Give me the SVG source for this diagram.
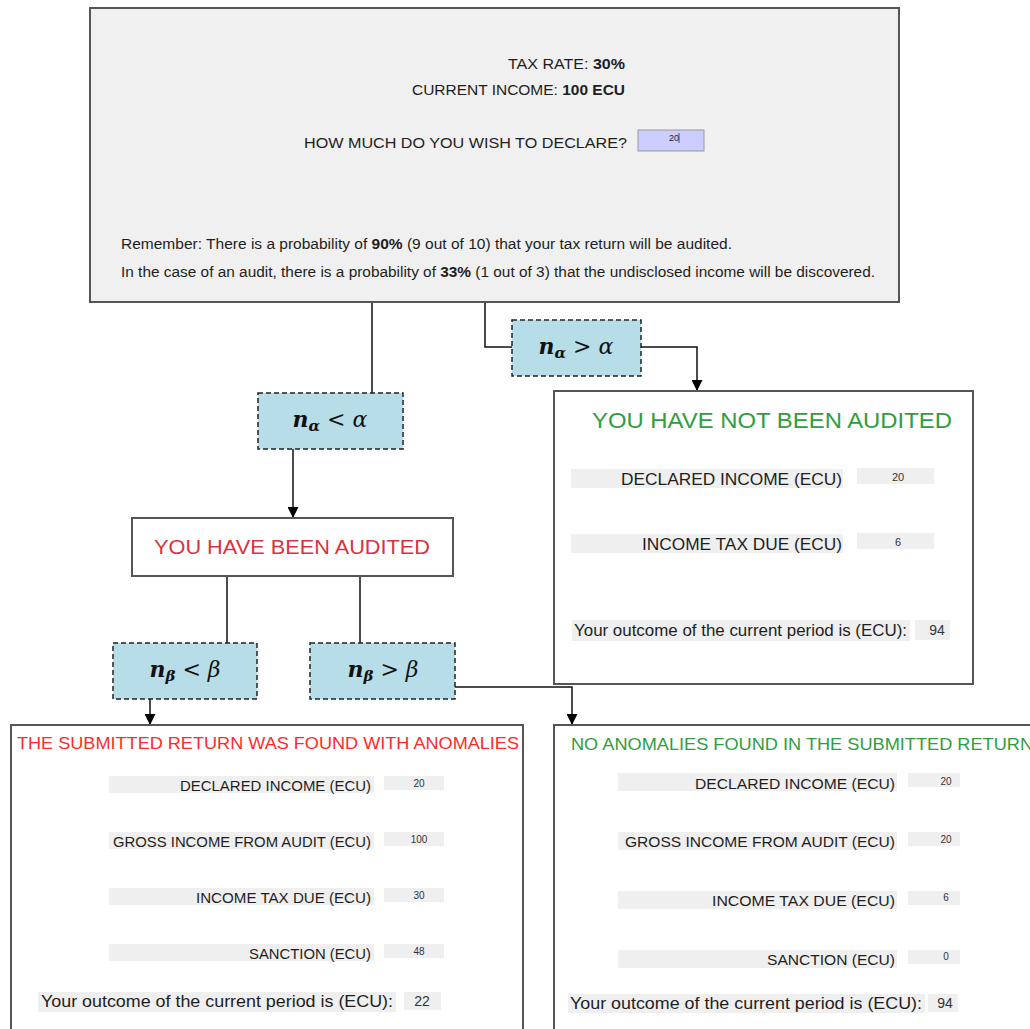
<svg xmlns="http://www.w3.org/2000/svg" width="1030" height="1029" viewBox="0 0 1030 1029">
<defs>
<marker id="arr" viewBox="0 0 10 10" refX="10" refY="5" markerWidth="11" markerHeight="11" markerUnits="userSpaceOnUse" orient="auto">
<path d="M0,0 L10,5 L0,10 z" fill="#000"/>
</marker>
<style>
.sans{font-family:"Liberation Sans",Arial,sans-serif;fill:#1e1e1e}
.box{fill:#fff;stroke:#555;stroke-width:2}
.cond{fill:#b7dde8;stroke:#222;stroke-width:1.5;stroke-dasharray:5 3}
.bar{fill:#efefef}
.conn{fill:none;stroke:#111;stroke-width:1.5}
.math{font-family:"DejaVu Serif","Liberation Serif",serif;font-size:22px;fill:#111}
.lbl{font-family:"Liberation Sans",Arial,sans-serif;fill:#1e1e1e;text-anchor:end}
.val{font-family:"Liberation Sans",Arial,sans-serif;fill:#333;text-anchor:middle}
</style>
</defs>
<rect width="1030" height="1029" fill="#fff"/>

<g id="connectors">
<path class="conn" d="M372,302 V393"/>
<path class="conn" d="M485,302 V347 H512"/>
<path class="conn" d="M641,347 H697 V391" marker-end="url(#arr)"/>
<path class="conn" d="M293,449 V518" marker-end="url(#arr)"/>
<path class="conn" d="M227,576 V643"/>
<path class="conn" d="M360,576 V643"/>
<path class="conn" d="M150,699 V725" marker-end="url(#arr)"/>
<path class="conn" d="M455,687 H572 V725" marker-end="url(#arr)"/>
</g>

<g id="decision">
<rect x="90" y="8" width="809" height="294" fill="#f0f0f0" stroke="#555" stroke-width="2"/>
<text class="sans" x="625" y="69" font-size="15.5" text-anchor="end" textLength="117" lengthAdjust="spacingAndGlyphs">TAX RATE: <tspan font-weight="bold">30%</tspan></text>
<text class="sans" x="625" y="95" font-size="15.5" text-anchor="end" textLength="213" lengthAdjust="spacingAndGlyphs">CURRENT INCOME: <tspan font-weight="bold">100 ECU</tspan></text>
<text class="sans" x="627" y="148" font-size="15.5" text-anchor="end" textLength="323" lengthAdjust="spacingAndGlyphs">HOW MUCH DO YOU WISH TO DECLARE?</text>
<rect x="638" y="130" width="66" height="21" fill="#ccccff" stroke="#999" stroke-width="1"/>
<text class="sans" x="674" y="141" font-size="9" text-anchor="middle">20</text>
<line x1="679" y1="133" x2="679" y2="143" stroke="#333" stroke-width="0.8"/>
<text class="sans" x="121" y="249" font-size="14" textLength="611" lengthAdjust="spacingAndGlyphs">Remember: There is a probability of <tspan font-weight="bold">90%</tspan> (9 out of 10) that your tax return will be audited.</text>
<text class="sans" x="121" y="277" font-size="14" textLength="754" lengthAdjust="spacingAndGlyphs">In the case of an audit, there is a probability of <tspan font-weight="bold">33%</tspan> (1 out of 3) that the undisclosed income will be discovered.</text>
</g>

<g id="cond-a-lt">
<rect class="cond" x="258" y="393" width="145" height="56"/>
<text class="math" x="330" y="427" text-anchor="middle"><tspan font-weight="bold" font-style="italic">n</tspan><tspan font-weight="bold" font-style="italic" font-size="15" dy="4">α</tspan><tspan dy="-4"> &lt; </tspan><tspan font-style="italic">α</tspan></text>
</g>

<g id="cond-a-gt">
<rect class="cond" x="512" y="320" width="129" height="56"/>
<text class="math" x="576" y="354" text-anchor="middle"><tspan font-weight="bold" font-style="italic">n</tspan><tspan font-weight="bold" font-style="italic" font-size="15" dy="4">α</tspan><tspan dy="-4"> &gt; </tspan><tspan font-style="italic">α</tspan></text>
</g>

<g id="not-audited">
<rect class="box" x="554" y="391" width="419" height="293"/>
<text class="sans" x="592" y="428" font-size="22" style="fill:#2e9e3e" textLength="360" lengthAdjust="spacingAndGlyphs">YOU HAVE NOT BEEN AUDITED</text>
<rect class="bar" x="571" y="469" width="272" height="19"/>
<rect class="bar" x="857" y="468" width="77" height="16"/>
<text class="lbl" x="842" y="485" font-size="17" textLength="221" lengthAdjust="spacingAndGlyphs">DECLARED INCOME (ECU)</text>
<text class="val" x="898" y="481" font-size="11">20</text>
<rect class="bar" x="571" y="534" width="272" height="19"/>
<rect class="bar" x="857" y="533" width="77" height="16"/>
<text class="lbl" x="842" y="550" font-size="17" textLength="200" lengthAdjust="spacingAndGlyphs">INCOME TAX DUE (ECU)</text>
<text class="val" x="898" y="546" font-size="11">6</text>
<rect class="bar" x="572" y="620" width="338" height="21"/>
<rect class="bar" x="915" y="620" width="35" height="20"/>
<text class="sans" x="574" y="636" font-size="16" textLength="333" lengthAdjust="spacingAndGlyphs">Your outcome of the current period is (ECU):</text>
<text class="val" x="937" y="635" font-size="14">94</text>
</g>

<g id="audited">
<rect class="box" x="132" y="518" width="321" height="58"/>
<text class="sans" x="292" y="554" font-size="20" text-anchor="middle" style="fill:#d9343e" textLength="276" lengthAdjust="spacingAndGlyphs">YOU HAVE BEEN AUDITED</text>
</g>

<g id="cond-b-lt">
<rect class="cond" x="113" y="643" width="144" height="56"/>
<text class="math" x="185" y="677" text-anchor="middle"><tspan font-weight="bold" font-style="italic">n</tspan><tspan font-weight="bold" font-style="italic" font-size="15" dy="4">β</tspan><tspan dy="-4"> &lt; </tspan><tspan font-style="italic">β</tspan></text>
</g>

<g id="cond-b-gt">
<rect class="cond" x="310" y="643" width="145" height="56"/>
<text class="math" x="383" y="677" text-anchor="middle"><tspan font-weight="bold" font-style="italic">n</tspan><tspan font-weight="bold" font-style="italic" font-size="15" dy="4">β</tspan><tspan dy="-4"> &gt; </tspan><tspan font-style="italic">β</tspan></text>
</g>

<g id="anomalies">
<rect class="box" x="11" y="725" width="512" height="310"/>
<text class="sans" x="17" y="749" font-size="17" style="fill:#ff2a2a" textLength="502" lengthAdjust="spacingAndGlyphs">THE SUBMITTED RETURN WAS FOUND WITH ANOMALIES</text>
<rect class="bar" x="109" y="776" width="265" height="17"/>
<rect class="bar" x="384" y="776" width="60" height="14"/>
<text class="lbl" x="371" y="791" font-size="15" textLength="191" lengthAdjust="spacingAndGlyphs">DECLARED INCOME (ECU)</text>
<text class="val" x="419" y="787" font-size="10">20</text>
<rect class="bar" x="109" y="832" width="265" height="17"/>
<rect class="bar" x="384" y="832" width="60" height="14"/>
<text class="lbl" x="371" y="847" font-size="15" textLength="258" lengthAdjust="spacingAndGlyphs">GROSS INCOME FROM AUDIT (ECU)</text>
<text class="val" x="419" y="843" font-size="10">100</text>
<rect class="bar" x="109" y="888" width="265" height="17"/>
<rect class="bar" x="384" y="888" width="60" height="14"/>
<text class="lbl" x="371" y="903" font-size="15" textLength="175" lengthAdjust="spacingAndGlyphs">INCOME TAX DUE (ECU)</text>
<text class="val" x="419" y="899" font-size="10">30</text>
<rect class="bar" x="109" y="944" width="265" height="17"/>
<rect class="bar" x="384" y="944" width="60" height="14"/>
<text class="lbl" x="371" y="959" font-size="15" textLength="122" lengthAdjust="spacingAndGlyphs">SANCTION (ECU)</text>
<text class="val" x="419" y="955" font-size="10">48</text>
<rect class="bar" x="38" y="992" width="358" height="20"/>
<rect class="bar" x="404" y="992" width="37" height="18"/>
<text class="sans" x="41" y="1007" font-size="16" textLength="352" lengthAdjust="spacingAndGlyphs">Your outcome of the current period is (ECU):</text>
<text class="val" x="422" y="1006" font-size="14">22</text>
</g>

<g id="no-anomalies">
<rect class="box" x="554" y="725" width="490" height="310"/>
<text class="sans" x="571" y="750" font-size="17" style="fill:#2e9e3e" textLength="462" lengthAdjust="spacingAndGlyphs">NO ANOMALIES FOUND IN THE SUBMITTED RETURN</text>
<rect class="bar" x="618" y="773" width="279" height="18"/>
<rect class="bar" x="908" y="773" width="52" height="14"/>
<text class="lbl" x="895" y="789" font-size="15" textLength="200" lengthAdjust="spacingAndGlyphs">DECLARED INCOME (ECU)</text>
<text class="val" x="946" y="785" font-size="10">20</text>
<rect class="bar" x="618" y="832" width="279" height="18"/>
<rect class="bar" x="908" y="832" width="52" height="14"/>
<text class="lbl" x="895" y="847" font-size="15" textLength="270" lengthAdjust="spacingAndGlyphs">GROSS INCOME FROM AUDIT (ECU)</text>
<text class="val" x="946" y="843" font-size="10">20</text>
<rect class="bar" x="618" y="891" width="279" height="18"/>
<rect class="bar" x="908" y="891" width="52" height="14"/>
<text class="lbl" x="895" y="906" font-size="15" textLength="183" lengthAdjust="spacingAndGlyphs">INCOME TAX DUE (ECU)</text>
<text class="val" x="946" y="901" font-size="10">6</text>
<rect class="bar" x="618" y="950" width="279" height="18"/>
<rect class="bar" x="908" y="950" width="52" height="14"/>
<text class="lbl" x="895" y="965" font-size="15" textLength="128" lengthAdjust="spacingAndGlyphs">SANCTION (ECU)</text>
<text class="val" x="946" y="960" font-size="10">0</text>
<rect class="bar" x="568" y="994" width="357" height="19"/>
<rect class="bar" x="928" y="994" width="30" height="18"/>
<text class="sans" x="570" y="1009" font-size="16" textLength="352" lengthAdjust="spacingAndGlyphs">Your outcome of the current period is (ECU):</text>
<text class="val" x="945" y="1008" font-size="14">94</text>
</g>
</svg>
